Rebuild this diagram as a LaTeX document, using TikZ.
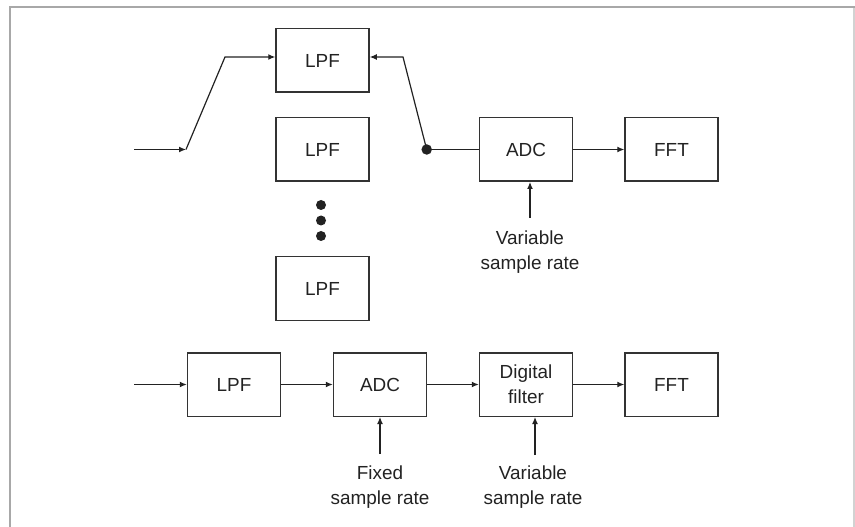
\documentclass[tikz,border=0pt]{standalone}
\usepackage{fontspec}
\setmainfont{Liberation Sans}
\usetikzlibrary{arrows.meta}
\definecolor{ink}{HTML}{222222}
\definecolor{boxline}{HTML}{333333}
\definecolor{framegray}{HTML}{A8A8A8}
\definecolor{framelight}{HTML}{D2D2D2}
\tikzset{
  blk/.style={draw=boxline, line width=1.5bp, minimum width=93bp, minimum height=63.5bp,
    inner sep=0pt, align=center, text=ink, font=\fontsize{19}{25}\selectfont},
  lbl/.style={inner sep=0pt, align=center, text=ink, anchor=north,
    font=\fontsize{19}{25.5}\selectfont},
  wire/.style={draw=ink, line width=1.2bp},
  arr/.style={wire, -{Latex[length=7bp,width=6bp]}},
  blob/.style={circle, fill=ink, inner sep=0pt, minimum size=10.5bp},
}
\begin{document}
\begin{tikzpicture}[x=1bp, y=-1bp]
  \useasboundingbox (0,0) rectangle (855,527);
  % page frame
  \draw[framegray, line width=2bp] (9.5,527) -- (9.5,7) -- (855,7);
  \draw[framelight, line width=1.5bp] (854,8) -- (854,527);

  % --- upper chain: switched analog filters, variable-rate ADC ---
  \node[blk] (lpfA) at (322.5,60.5) {LPF};
  \node[blk] (lpfB) at (322.5,149.5) {LPF};
  \node[blk] (lpfC) at (322.5,288.5) {LPF};
  \node[blob, minimum size=10bp] (d1) at (321,205) {};
  \node[blob, minimum size=10bp] (d2) at (321,220.5) {};
  \node[blob, minimum size=10bp] (d3) at (321,236) {};
  \node[blk] (adcA) at (526,149.5) {ADC};
  \node[blk] (fftA) at (671.5,149.5) {FFT};

  \coordinate (inA) at (134,149.5);
  \coordinate (swIn) at (186,149.5);
  \coordinate (swInTop) at (225,57);
  \coordinate (swOutTop) at (403,57);
  \node[blob] (swOut) at (426.7,149.5) {};

  \draw[arr] (inA) -- (swIn);
  \draw[arr] (swIn) -- (swInTop) -- (swInTop -| lpfA.west);
  \draw[arr] (swOut.center) -- (swOutTop) -- (swOutTop -| lpfA.east);
  \draw[wire] (swOut.center) -- (adcA.west);
  \draw[arr] (adcA) -- (fftA);

  \coordinate (rateA) at (530,218);
  \draw[arr] (rateA) -- (rateA |- adcA.south);
  \node[lbl] (rateAtxt) at (530,230.5) {Variable\\sample rate};

  % --- lower chain: fixed-rate ADC followed by digital filter ---
  \node[blk] (lpfD) at (234,384.5) {LPF};
  \node[blk] (adcB) at (380,384.5) {ADC};
  \node[blk] (dig) at (526,384.5) {Digital\\filter};
  \node[blk] (fftB) at (671.5,384.5) {FFT};

  \coordinate (inB) at (134,384.5);
  \draw[arr] (inB) -- (lpfD);
  \draw[arr] (lpfD) -- (adcB);
  \draw[arr] (adcB) -- (dig);
  \draw[arr] (dig) -- (fftB);

  \coordinate (rateB) at (380,454);
  \draw[arr] (rateB) -- (rateB |- adcB.south);
  \node[lbl] (rateBtxt) at (380,465.5) {Fixed\\sample rate};

  \coordinate (rateC) at (535,455);
  \draw[arr] (rateC) -- (rateC |- dig.south);
  \node[lbl] (rateCtxt) at (533,465.5) {Variable\\sample rate};
\end{tikzpicture}
\end{document}
